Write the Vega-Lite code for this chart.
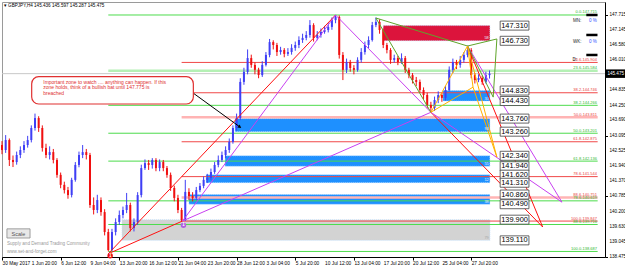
{
"$schema":"https://vega.github.io/schema/vega-lite/v6.json",
"width":603,"height":255,
"autosize":{"type":"none"},
"padding":{"left":2,"top":2,"right":20,"bottom":12},
"background":"#ffffff",
"config":{"view":{"stroke":"#9a9a9a","strokeWidth":1},"font":"Liberation Sans","text":{"font":"Liberation Sans"},
 "axis":{"labelFont":"Liberation Sans","grid":false,"labelOverlap":false,"labelFlush":false,"labelBound":false}},
"datasets":{
"c":[
{"i":0,"o":142.75,"h":142.9,"l":142.4,"c":142.56},
{"i":2,"o":142.56,"h":143.13,"l":142.45,"c":142.94},
{"i":4,"o":142.94,"h":143.0,"l":141.95,"c":142.18},
{"i":6,"o":142.18,"h":142.35,"l":141.91,"c":142.1},
{"i":8,"o":142.1,"h":142.5,"l":142.0,"c":142.37},
{"i":10,"o":142.37,"h":142.7,"l":142.25,"c":142.56},
{"i":12,"o":142.56,"h":142.9,"l":142.45,"c":142.75},
{"i":14,"o":142.75,"h":143.1,"l":142.65,"c":142.94},
{"i":16,"o":142.94,"h":143.5,"l":142.85,"c":143.4},
{"i":18,"o":143.4,"h":143.95,"l":143.3,"c":143.78},
{"i":20,"o":143.78,"h":143.85,"l":143.25,"c":143.4},
{"i":22,"o":143.4,"h":143.5,"l":142.5,"c":142.64},
{"i":24,"o":142.64,"h":142.8,"l":142.25,"c":142.37},
{"i":26,"o":142.37,"h":142.7,"l":142.2,"c":142.48},
{"i":28,"o":142.48,"h":142.6,"l":142.05,"c":142.18},
{"i":30,"o":142.18,"h":142.25,"l":141.5,"c":141.61},
{"i":32,"o":141.61,"h":141.7,"l":141.1,"c":141.23},
{"i":34,"o":141.23,"h":141.35,"l":140.9,"c":141.03},
{"i":36,"o":141.03,"h":141.15,"l":140.7,"c":140.84},
{"i":38,"o":140.84,"h":141.5,"l":140.75,"c":141.42},
{"i":40,"o":141.42,"h":142.1,"l":141.35,"c":141.99},
{"i":42,"o":141.99,"h":142.5,"l":141.9,"c":142.37},
{"i":44,"o":142.37,"h":142.75,"l":142.25,"c":142.48},
{"i":46,"o":142.48,"h":142.6,"l":142.2,"c":142.37},
{"i":48,"o":142.37,"h":142.45,"l":140.35,"c":140.46},
{"i":50,"o":140.46,"h":140.75,"l":140.1,"c":140.27},
{"i":52,"o":140.27,"h":140.85,"l":140.15,"c":140.65},
{"i":54,"o":140.65,"h":140.75,"l":140.05,"c":140.19},
{"i":56,"o":140.19,"h":140.3,"l":139.3,"c":139.43},
{"i":58,"o":139.43,"h":139.55,"l":138.69,"c":138.74},
{"i":60,"o":138.74,"h":139.55,"l":138.7,"c":139.43},
{"i":62,"o":139.43,"h":139.95,"l":139.3,"c":139.81},
{"i":64,"o":139.81,"h":140.25,"l":139.7,"c":140.08},
{"i":66,"o":140.08,"h":140.4,"l":139.95,"c":140.27},
{"i":68,"o":140.27,"h":140.92,"l":140.15,"c":140.46},
{"i":70,"o":140.46,"h":140.55,"l":139.45,"c":139.58},
{"i":72,"o":139.58,"h":139.95,"l":139.45,"c":139.81},
{"i":74,"o":139.81,"h":140.95,"l":139.7,"c":140.84},
{"i":76,"o":140.84,"h":142.0,"l":140.75,"c":141.87},
{"i":78,"o":141.87,"h":142.2,"l":141.8,"c":142.06},
{"i":80,"o":142.06,"h":142.18,"l":141.8,"c":141.99},
{"i":82,"o":141.99,"h":142.25,"l":141.85,"c":142.18},
{"i":84,"o":142.18,"h":142.25,"l":141.75,"c":141.87},
{"i":86,"o":141.87,"h":142.2,"l":141.75,"c":142.1},
{"i":88,"o":142.1,"h":142.18,"l":141.75,"c":141.87},
{"i":90,"o":141.87,"h":141.95,"l":141.5,"c":141.61},
{"i":92,"o":141.61,"h":141.7,"l":141.0,"c":141.11},
{"i":94,"o":141.11,"h":141.2,"l":140.6,"c":140.73},
{"i":96,"o":140.73,"h":140.85,"l":140.15,"c":140.27},
{"i":98,"o":140.27,"h":140.35,"l":139.85,"c":139.89},
{"i":100,"o":139.89,"h":141.42,"l":139.85,"c":140.96},
{"i":102,"o":140.96,"h":141.1,"l":140.65,"c":140.8},
{"i":104,"o":140.8,"h":140.95,"l":140.6,"c":140.73},
{"i":106,"o":140.73,"h":141.15,"l":140.65,"c":141.03},
{"i":108,"o":141.03,"h":141.3,"l":140.95,"c":141.19},
{"i":110,"o":141.19,"h":141.55,"l":141.1,"c":141.42},
{"i":112,"o":141.42,"h":141.65,"l":141.3,"c":141.49},
{"i":114,"o":141.49,"h":141.85,"l":141.4,"c":141.72},
{"i":116,"o":141.72,"h":142.1,"l":141.65,"c":141.99},
{"i":118,"o":141.99,"h":142.35,"l":141.9,"c":142.18},
{"i":120,"o":142.18,"h":142.5,"l":142.1,"c":142.37},
{"i":122,"o":142.37,"h":142.7,"l":142.25,"c":142.56},
{"i":124,"o":142.56,"h":143.0,"l":142.45,"c":142.87},
{"i":126,"o":142.87,"h":143.5,"l":142.8,"c":143.4},
{"i":128,"o":143.4,"h":143.95,"l":143.3,"c":143.78},
{"i":130,"o":143.78,"h":145.3,"l":143.7,"c":145.16},
{"i":132,"o":145.16,"h":145.7,"l":145.05,"c":145.54},
{"i":134,"o":145.54,"h":146.4,"l":145.45,"c":146.07},
{"i":136,"o":146.07,"h":146.2,"l":145.7,"c":145.81},
{"i":138,"o":145.81,"h":145.9,"l":145.45,"c":145.62},
{"i":140,"o":145.62,"h":145.7,"l":145.3,"c":145.42},
{"i":142,"o":145.42,"h":145.95,"l":145.35,"c":145.81},
{"i":144,"o":145.81,"h":146.3,"l":145.75,"c":146.19},
{"i":146,"o":146.19,"h":146.8,"l":146.1,"c":146.68},
{"i":148,"o":146.68,"h":146.75,"l":146.4,"c":146.57},
{"i":150,"o":146.57,"h":146.65,"l":146.15,"c":146.3},
{"i":152,"o":146.3,"h":146.5,"l":146.2,"c":146.38},
{"i":154,"o":146.38,"h":146.45,"l":146.1,"c":146.23},
{"i":156,"o":146.23,"h":146.45,"l":146.15,"c":146.3},
{"i":158,"o":146.3,"h":146.6,"l":146.2,"c":146.46},
{"i":160,"o":146.46,"h":146.7,"l":146.35,"c":146.57},
{"i":162,"o":146.57,"h":146.9,"l":146.45,"c":146.76},
{"i":164,"o":146.76,"h":147.0,"l":146.65,"c":146.84},
{"i":166,"o":146.84,"h":147.1,"l":146.75,"c":146.95},
{"i":168,"o":146.95,"h":147.52,"l":146.85,"c":147.33},
{"i":170,"o":147.33,"h":147.4,"l":146.7,"c":146.84},
{"i":172,"o":146.84,"h":147.1,"l":146.75,"c":146.95},
{"i":174,"o":146.95,"h":147.2,"l":146.85,"c":147.07},
{"i":176,"o":147.07,"h":147.3,"l":147.0,"c":147.14},
{"i":178,"o":147.14,"h":147.4,"l":147.05,"c":147.26},
{"i":180,"o":147.26,"h":147.62,"l":147.15,"c":147.52},
{"i":182,"o":147.52,"h":147.72,"l":147.4,"c":147.64},
{"i":184,"o":147.64,"h":147.7,"l":146.05,"c":146.19},
{"i":186,"o":146.19,"h":146.3,"l":145.23,"c":145.62},
{"i":188,"o":145.62,"h":146.05,"l":145.5,"c":145.92},
{"i":190,"o":145.92,"h":146.0,"l":145.55,"c":145.69},
{"i":192,"o":145.69,"h":145.8,"l":145.45,"c":145.62},
{"i":194,"o":145.62,"h":146.1,"l":145.55,"c":146.0},
{"i":196,"o":146.0,"h":146.45,"l":145.9,"c":146.3},
{"i":198,"o":146.3,"h":146.7,"l":146.2,"c":146.57},
{"i":200,"o":146.57,"h":146.9,"l":146.45,"c":146.76},
{"i":202,"o":146.76,"h":147.45,"l":146.7,"c":147.33},
{"i":204,"o":147.33,"h":147.62,"l":147.25,"c":147.45},
{"i":206,"o":147.45,"h":147.55,"l":147.0,"c":147.14},
{"i":208,"o":147.14,"h":147.2,"l":146.45,"c":146.57},
{"i":210,"o":146.57,"h":146.65,"l":146.25,"c":146.38},
{"i":212,"o":146.38,"h":146.45,"l":145.85,"c":146.0},
{"i":214,"o":146.0,"h":146.2,"l":145.9,"c":146.07},
{"i":216,"o":146.07,"h":146.15,"l":145.8,"c":145.92},
{"i":218,"o":145.92,"h":146.25,"l":145.85,"c":146.07},
{"i":220,"o":146.07,"h":146.15,"l":145.5,"c":145.62},
{"i":222,"o":145.62,"h":145.7,"l":145.3,"c":145.42},
{"i":224,"o":145.42,"h":145.5,"l":145.1,"c":145.23},
{"i":226,"o":145.23,"h":145.35,"l":145.0,"c":145.16},
{"i":228,"o":145.16,"h":145.25,"l":144.75,"c":144.85},
{"i":230,"o":144.85,"h":144.95,"l":144.5,"c":144.66},
{"i":232,"o":144.66,"h":144.75,"l":144.15,"c":144.28},
{"i":234,"o":144.28,"h":144.4,"l":143.98,"c":144.17},
{"i":236,"o":144.17,"h":144.6,"l":144.05,"c":144.47},
{"i":238,"o":144.47,"h":144.8,"l":144.35,"c":144.66},
{"i":240,"o":144.66,"h":144.75,"l":144.4,"c":144.55},
{"i":242,"o":144.55,"h":145.0,"l":144.45,"c":144.85},
{"i":244,"o":144.85,"h":145.75,"l":144.8,"c":145.62},
{"i":246,"o":145.62,"h":146.05,"l":145.5,"c":145.92},
{"i":248,"o":145.92,"h":146.0,"l":145.65,"c":145.81},
{"i":250,"o":145.81,"h":146.15,"l":145.7,"c":146.0},
{"i":252,"o":146.0,"h":146.3,"l":145.9,"c":146.19},
{"i":254,"o":146.19,"h":146.55,"l":146.1,"c":146.38},
{"i":256,"o":146.38,"h":146.45,"l":145.3,"c":145.42},
{"i":258,"o":145.42,"h":145.5,"l":145.1,"c":145.23},
{"i":260,"o":145.23,"h":145.45,"l":145.15,"c":145.31},
{"i":262,"o":145.31,"h":145.4,"l":145.05,"c":145.16},
{"i":264,"o":145.16,"h":145.55,"l":145.1,"c":145.42},
{"i":266,"o":145.42,"h":145.597,"l":145.287,"c":145.475}
],
"zones":[
{"k":"red","s":208,"e":266.2,"t":147.31,"b":146.73,"n":"58"},
{"k":"blue","s":240.6,"e":266.2,"t":144.83,"b":144.43,"n":"30"},
{"k":"blue","s":127.1,"e":266.2,"t":143.76,"b":143.26,"n":"93"},
{"k":"blue","s":121.7,"e":266.2,"t":142.34,"b":141.94,"n":"55"},
{"k":"blue","s":111.3,"e":266.2,"t":141.62,"b":141.31,"n":"12"},
{"k":"blue","s":102,"e":266.2,"t":140.86,"b":140.49,"n":"38"},
{"k":"gray","s":65.5,"e":266.2,"t":139.9,"b":139.11,"n":"79"}
],
"fib":[
{"set":"g","lv":"0.0","s":58,"p":147.715,"t":"0.0-147.715"},
{"set":"g","lv":"23.6","s":58,"p":145.584,"t":"23.6-145.584"},
{"set":"g","lv":"38.2","s":58,"p":144.266,"t":"38.2-144.266"},
{"set":"g","lv":"50.0","s":58,"p":143.201,"t":"50.0-143.201"},
{"set":"g","lv":"61.8","s":58,"p":142.136,"t":"61.8-142.136"},
{"set":"g","lv":"78.6","s":58,"p":140.619,"t":"78.6-140.619"},
{"set":"g","lv":"88.6","s":58,"p":139.716,"t":"88.6-139.716"},
{"set":"g","lv":"100.0","s":58,"p":138.687,"t":"100.0-138.687"},
{"set":"r","lv":"23.6","s":98,"p":145.904,"t":"23.6-145.904"},
{"set":"r","lv":"38.2","s":98,"p":144.746,"t":"38.2-144.746"},
{"set":"r","lv":"50.0","s":98,"p":143.811,"t":"50.0-143.811"},
{"set":"r","lv":"61.8","s":98,"p":142.875,"t":"61.8-142.875"},
{"set":"r","lv":"78.6","s":98,"p":141.544,"t":"78.6-141.544"},
{"set":"r","lv":"88.6","s":98,"p":140.751,"t":"88.6-140.751"},
{"set":"r","lv":"100.0","s":98,"p":139.847,"t":"100.0-139.847"}
],
"tl":[
{"c":"red","i1":58,"p1":138.6,"i2":182,"p2":147.715},
{"c":"red","i1":58,"p1":138.6,"i2":98.5,"p2":139.85},
{"c":"red","i1":234,"p1":144.0,"i2":295,"p2":139.62},
{"c":"red","i1":254,"p1":146.53,"i2":295,"p2":139.62},
{"c":"mag","i1":98.5,"p1":139.85,"i2":182,"p2":147.715},
{"c":"mag","i1":98.5,"p1":139.85,"i2":234,"p2":144.0},
{"c":"mag","i1":182,"p1":147.715,"i2":234,"p2":144.0},
{"c":"mag","i1":234,"p1":144.0,"i2":305.5,"p2":140.57},
{"c":"mag","i1":254,"p1":146.53,"i2":305.5,"p2":140.57},
{"c":"grn","i1":204,"p1":147.6,"i2":234,"p2":144.0},
{"c":"grn","i1":204,"p1":147.6,"i2":254,"p2":146.53},
{"c":"grn","i1":254,"p1":146.53,"i2":270,"p2":146.8},
{"c":"grn","i1":270,"p1":146.8,"i2":268,"p2":144.58},
{"c":"grn","i1":254,"p1":146.53,"i2":268,"p2":144.58},
{"c":"org","i1":234,"p1":144.0,"i2":254,"p2":146.53},
{"c":"org","i1":234,"p1":144.0,"i2":257,"p2":144.96},
{"c":"org","i1":254,"p1":146.53,"i2":257,"p2":144.96},
{"c":"org","i1":254,"p1":146.53,"i2":270,"p2":142.29},
{"c":"org","i1":257,"p1":144.96,"i2":270,"p2":142.29},
{"c":"blk","i1":104.2,"p1":144.74,"i2":129.8,"p2":143.44}
],
"lv":[{"p":147.31},{"p":146.73},{"p":144.83},{"p":144.43},{"p":143.76},{"p":143.26},{"p":142.34},{"p":141.94},{"p":141.62},{"p":141.31},{"p":140.86},{"p":140.49},{"p":139.9},{"p":139.11}],
"xt":[{"i":0,"t":"30 May 2017"},{"i":16,"t":"1 Jun 20:00"},{"i":32,"t":"6 Jun 12:00"},{"i":48,"t":"9 Jun 04:00"},{"i":64,"t":"13 Jun 20:00"},{"i":80,"t":"16 Jun 12:00"},{"i":96,"t":"21 Jun 04:00"},{"i":112,"t":"23 Jun 20:00"},{"i":128,"t":"28 Jun 12:00"},{"i":144,"t":"3 Jul 04:00"},{"i":160,"t":"5 Jul 20:00"},{"i":176,"t":"10 Jul 12:00"},{"i":192,"t":"13 Jul 04:00"},{"i":208,"t":"17 Jul 20:00"},{"i":224,"t":"20 Jul 12:00"},{"i":240,"t":"25 Jul 04:00"},{"i":256,"t":"27 Jul 20:00"}],
"yt":[{"p":147.715},{"p":147.145},{"p":146.58},{"p":146.01},{"p":144.835},{"p":144.25},{"p":143.69},{"p":143.095},{"p":142.525},{"p":141.94},{"p":141.37},{"p":140.785},{"p":140.2},{"p":139.63},{"p":139.045},{"p":138.475}]
},
"layer":[
{"data":{"name":"zones"},"mark":{"type":"rect","stroke":"#B8DCFF","strokeWidth":0.7,"strokeDash":[1,1],"opacity":1},
 "encoding":{
  "x":{"field":"s","type":"quantitative","title":null,"scale":{"domain":[0,329],"nice":false,"zero":false,"padding":0},
   "axis":{"title":null,"orient":"bottom","values":[0,16,32,48,64,80,96,112,128,144,160,176,192,208,224,240,256],"labels":false,"tickSize":3,"tickColor":"#000","domainColor":"#000","grid":false}},
  "x2":{"field":"e"},
  "y":{"field":"t","type":"quantitative","title":null,"scale":{"domain":[138.475,148.211],"nice":false,"zero":false,"padding":0},
   "axis":{"title":null,"orient":"right","values":[147.715,147.145,146.58,146.01,145.44,144.835,144.25,143.69,143.095,142.525,141.94,141.37,140.785,140.2,139.63,139.045,138.475],"labels":false,"tickSize":2.5,"tickColor":"#000","domainColor":"#000","grid":false}},
  "y2":{"field":"b"},
  "color":{"condition":[{"test":"datum.k=='blue'","value":"#1E90FF"},{"test":"datum.k=='gray'","value":"#D3D3D3"}],"value":"#DC143C"}}},
{"data":{"values":[{}]},"mark":{"type":"rule","color":"#C8C8C8","strokeWidth":1},
 "encoding":{"x":{"datum":0,"type":"quantitative","title":null},"x2":{"datum":329},"y":{"datum":145.475,"type":"quantitative","title":null}}},
{"data":{"name":"fib"},"mark":{"type":"rule"},
 "encoding":{"x":{"field":"s","type":"quantitative","title":null},"x2":{"datum":325},"y":{"field":"p","type":"quantitative","title":null},
  "color":{"condition":[{"test":"datum.set=='g'&&datum.lv=='23.6'","value":"#B4F0B4"},{"test":"datum.set=='r'&&(datum.lv=='50.0'||datum.lv=='88.6')","value":"#FFB4B4"},{"test":"datum.set=='g'","value":"#4CDC4C"}],"value":"#F04848"},
  "strokeWidth":{"condition":{"test":"(datum.set=='g'&&datum.lv=='23.6')||(datum.set=='r'&&(datum.lv=='50.0'||datum.lv=='88.6'))","value":2.5},"value":1}}},
{"data":{"name":"c"},"mark":{"type":"rule","strokeWidth":1},
 "encoding":{"x":{"field":"i","type":"quantitative","title":null},"y":{"field":"l","type":"quantitative","title":null},"y2":{"field":"h"},
  "color":{"condition":{"test":"datum.c>=datum.o","value":"#3F3FF5"},"value":"#F01010"}}},
{"data":{"name":"c"},"mark":{"type":"bar","size":2},
 "encoding":{"x":{"field":"i","type":"quantitative","title":null},"y":{"field":"o","type":"quantitative","title":null},"y2":{"field":"c"},
  "color":{"condition":{"test":"datum.c>=datum.o","value":"#3F3FF5"},"value":"#F01010"}}},
{"data":{"name":"tl"},"mark":{"type":"rule","strokeWidth":1},
 "encoding":{"x":{"field":"i1","type":"quantitative","title":null},"y":{"field":"p1","type":"quantitative","title":null},"x2":{"field":"i2"},"y2":{"field":"p2"},
  "color":{"condition":[{"test":"datum.c=='red'","value":"#FF1010"},{"test":"datum.c=='mag'","value":"#C840F0"},{"test":"datum.c=='grn'","value":"#5FA52A"},{"test":"datum.c=='org'","value":"#FFB000"}],"value":"#000000"}}},
{"data":{"values":[{}]},"mark":{"type":"point","shape":"triangle-right","angle":36,"size":14,"filled":true,"color":"#000","opacity":1},
 "encoding":{"x":{"datum":129.8,"type":"quantitative","title":null},"y":{"datum":143.44,"type":"quantitative","title":null}}},
{"data":{"name":"fib"},"mark":{"type":"text","align":"right","baseline":"bottom","dy":-0.5,"fontSize":4},
 "encoding":{"x":{"datum":324.6,"type":"quantitative","title":null},"y":{"field":"p","type":"quantitative","title":null},"text":{"field":"t"},
  "color":{"condition":{"test":"datum.set=='g'","value":"#2EB82E"},"value":"#E83A3A"}}},
{"data":{"name":"zones"},"mark":{"type":"text","align":"center","baseline":"bottom","dy":-0.5,"fontSize":4},
 "encoding":{"x":{"datum":264.4,"type":"quantitative","title":null},"y":{"field":"b","type":"quantitative","title":null},"text":{"field":"n"},
  "color":{"condition":{"test":"datum.k=='gray'","value":"#A8A8A8"},"value":"#E6F0FF"}}},
{"data":{"name":"lv"},"mark":{"type":"bar","size":9,"fill":"#ffffff","stroke":"#404040","strokeWidth":0.8},
 "encoding":{"x":{"datum":271.8,"type":"quantitative","title":null},"x2":{"datum":287.5},"y":{"field":"p","type":"quantitative","title":null}}},
{"data":{"name":"lv"},"mark":{"type":"text","align":"center","baseline":"middle","fontSize":7.4,"color":"#000"},
 "encoding":{"x":{"datum":279.65,"type":"quantitative","title":null},"y":{"field":"p","type":"quantitative","title":null},"text":{"field":"p","format":".3f"}}},
{"data":{"values":[{}]},"mark":{"type":"rect","fill":"#ffffff","stroke":"#E03030","strokeWidth":1.2,"cornerRadius":7},
 "encoding":{"x":{"datum":16.2,"type":"quantitative","title":null},"x2":{"datum":104.4},"y":{"datum":145.36,"type":"quantitative","title":null},"y2":{"datum":144.317}}},
{"data":{"values":[{}]},"mark":{"type":"text","align":"left","baseline":"top","fontSize":5,"lineHeight":5.6,"color":"#E03030",
  "text":["Important zone to watch .... anything can happen. If this","zone holds, think of a bullish bat until 147.775 is","breached"]},
 "encoding":{"x":{"datum":22.5,"type":"quantitative","title":null},"y":{"datum":145.24,"type":"quantitative","title":null}}},
{"data":{"values":[{}]},"mark":{"type":"point","shape":"circle","size":30,"filled":true,"color":"#E81010","opacity":1},
 "encoding":{"x":{"datum":59,"type":"quantitative","title":null},"y":{"datum":138.52,"type":"quantitative","title":null}}},
{"data":{"values":[{}]},"mark":{"type":"point","shape":"circle","size":30,"filled":true,"color":"#B060E0","opacity":1},
 "encoding":{"x":{"datum":99,"type":"quantitative","title":null},"y":{"datum":139.69,"type":"quantitative","title":null}}},
{"data":{"values":[{}]},"mark":{"type":"text","text":"1","fontSize":4.5,"fontWeight":"bold","color":"#ffffff","align":"center","baseline":"middle"},
 "encoding":{"x":{"datum":59,"type":"quantitative","title":null},"y":{"datum":138.52,"type":"quantitative","title":null}}},
{"data":{"values":[{}]},"mark":{"type":"text","text":"1","fontSize":4.5,"fontWeight":"bold","color":"#ffffff","align":"center","baseline":"middle"},
 "encoding":{"x":{"datum":99,"type":"quantitative","title":null},"y":{"datum":139.69,"type":"quantitative","title":null}}},
{"data":{"values":[{}]},"mark":{"type":"rect","fill":"#E8E8E8","stroke":"#8a8a8a","strokeWidth":0.8},
 "encoding":{"x":{"datum":2.7,"type":"quantitative","title":null},"x2":{"datum":15.3},"y":{"datum":139.55,"type":"quantitative","title":null},"y2":{"datum":139.2}}},
{"data":{"values":[{}]},"mark":{"type":"text","text":"Scale","fontSize":5.5,"color":"#555","align":"center","baseline":"middle"},
 "encoding":{"x":{"datum":9,"type":"quantitative","title":null},"y":{"datum":139.37,"type":"quantitative","title":null}}},
{"data":{"values":[{}]},"mark":{"type":"text","text":["Supply and Demand Trading Community","www.set-and-forget.com"],"fontSize":4.6,"lineHeight":7.7,"color":"#9a9a9a","align":"left","baseline":"top"},
 "encoding":{"x":{"datum":2.7,"type":"quantitative","title":null},"y":{"datum":139.09,"type":"quantitative","title":null}}},
{"data":{"values":[{}]},"mark":{"type":"text","text":"▾ GBPJPY,H4  145.436 145.597 145.287 145.475","fontSize":4.6,"color":"#000","align":"left","baseline":"top"},
 "encoding":{"x":{"datum":1,"type":"quantitative","title":null},"y":{"datum":148.16,"type":"quantitative","title":null}}},
{"data":{"values":[{}]},"mark":{"type":"text","text":"MN:","fontSize":4.5,"color":"#222","align":"left","baseline":"middle"},
 "encoding":{"x":{"datum":311.5,"type":"quantitative","title":null},"y":{"datum":147.49,"type":"quantitative","title":null}}},
{"data":{"values":[{}]},"mark":{"type":"text","text":"WK:","fontSize":4.5,"color":"#222","align":"left","baseline":"middle"},
 "encoding":{"x":{"datum":311.5,"type":"quantitative","title":null},"y":{"datum":146.69,"type":"quantitative","title":null}}},
{"data":{"values":[{}]},"mark":{"type":"text","text":"D:","fontSize":4.5,"color":"#222","align":"left","baseline":"middle"},
 "encoding":{"x":{"datum":311.3,"type":"quantitative","title":null},"y":{"datum":145.98,"type":"quantitative","title":null}}},
{"data":{"values":[{}]},"mark":{"type":"text","text":"0 %","fontSize":4.5,"color":"#3050FF","align":"left","baseline":"middle"},
 "encoding":{"x":{"datum":320.3,"type":"quantitative","title":null},"y":{"datum":147.49,"type":"quantitative","title":null}}},
{"data":{"values":[{}]},"mark":{"type":"text","text":"0 %","fontSize":4.5,"color":"#3050FF","align":"left","baseline":"middle"},
 "encoding":{"x":{"datum":320.3,"type":"quantitative","title":null},"y":{"datum":146.69,"type":"quantitative","title":null}}},
{"data":{"values":[{}]},"mark":{"type":"rule","strokeWidth":2.5,"color":"#000"},
 "encoding":{"x":{"datum":318.8,"type":"quantitative","title":null},"x2":{"datum":324.9},"y":{"datum":147.715,"type":"quantitative","title":null}}},
{"data":{"values":[{}]},"mark":{"type":"rule","strokeWidth":2.5,"color":"#000"},
 "encoding":{"x":{"datum":318.8,"type":"quantitative","title":null},"x2":{"datum":324.9},"y":{"datum":146.952,"type":"quantitative","title":null}}},
{"data":{"values":[{}]},"mark":{"type":"rule","strokeWidth":2.5,"color":"#000"},
 "encoding":{"x":{"datum":318.8,"type":"quantitative","title":null},"x2":{"datum":324.9},"y":{"datum":146.188,"type":"quantitative","title":null}}},
{"data":{"name":"xt"},"mark":{"type":"text","align":"left","baseline":"top","dy":4,"dx":0.5,"fontSize":4.8,"color":"#000"},
 "encoding":{"x":{"field":"i","type":"quantitative","title":null},"y":{"datum":138.475,"type":"quantitative","title":null},"text":{"field":"t"}}},
{"data":{"name":"yt"},"mark":{"type":"text","align":"left","baseline":"middle","dx":4.5,"fontSize":4.6,"color":"#000"},
 "encoding":{"x":{"datum":329,"type":"quantitative","title":null},"y":{"field":"p","type":"quantitative","title":null},"text":{"field":"p","format":".3f"}}},
{"data":{"values":[{}]},"mark":{"type":"bar","size":8.5,"fill":"#000000"},
 "encoding":{"x":{"datum":329.4,"type":"quantitative","title":null},"x2":{"datum":340.5},"y":{"datum":145.475,"type":"quantitative","title":null}}},
{"data":{"values":[{}]},"mark":{"type":"text","text":"145.475","fontSize":4.6,"color":"#ffffff","align":"left","baseline":"middle"},
 "encoding":{"x":{"datum":330.3,"type":"quantitative","title":null},"y":{"datum":145.475,"type":"quantitative","title":null}}}
]
}
